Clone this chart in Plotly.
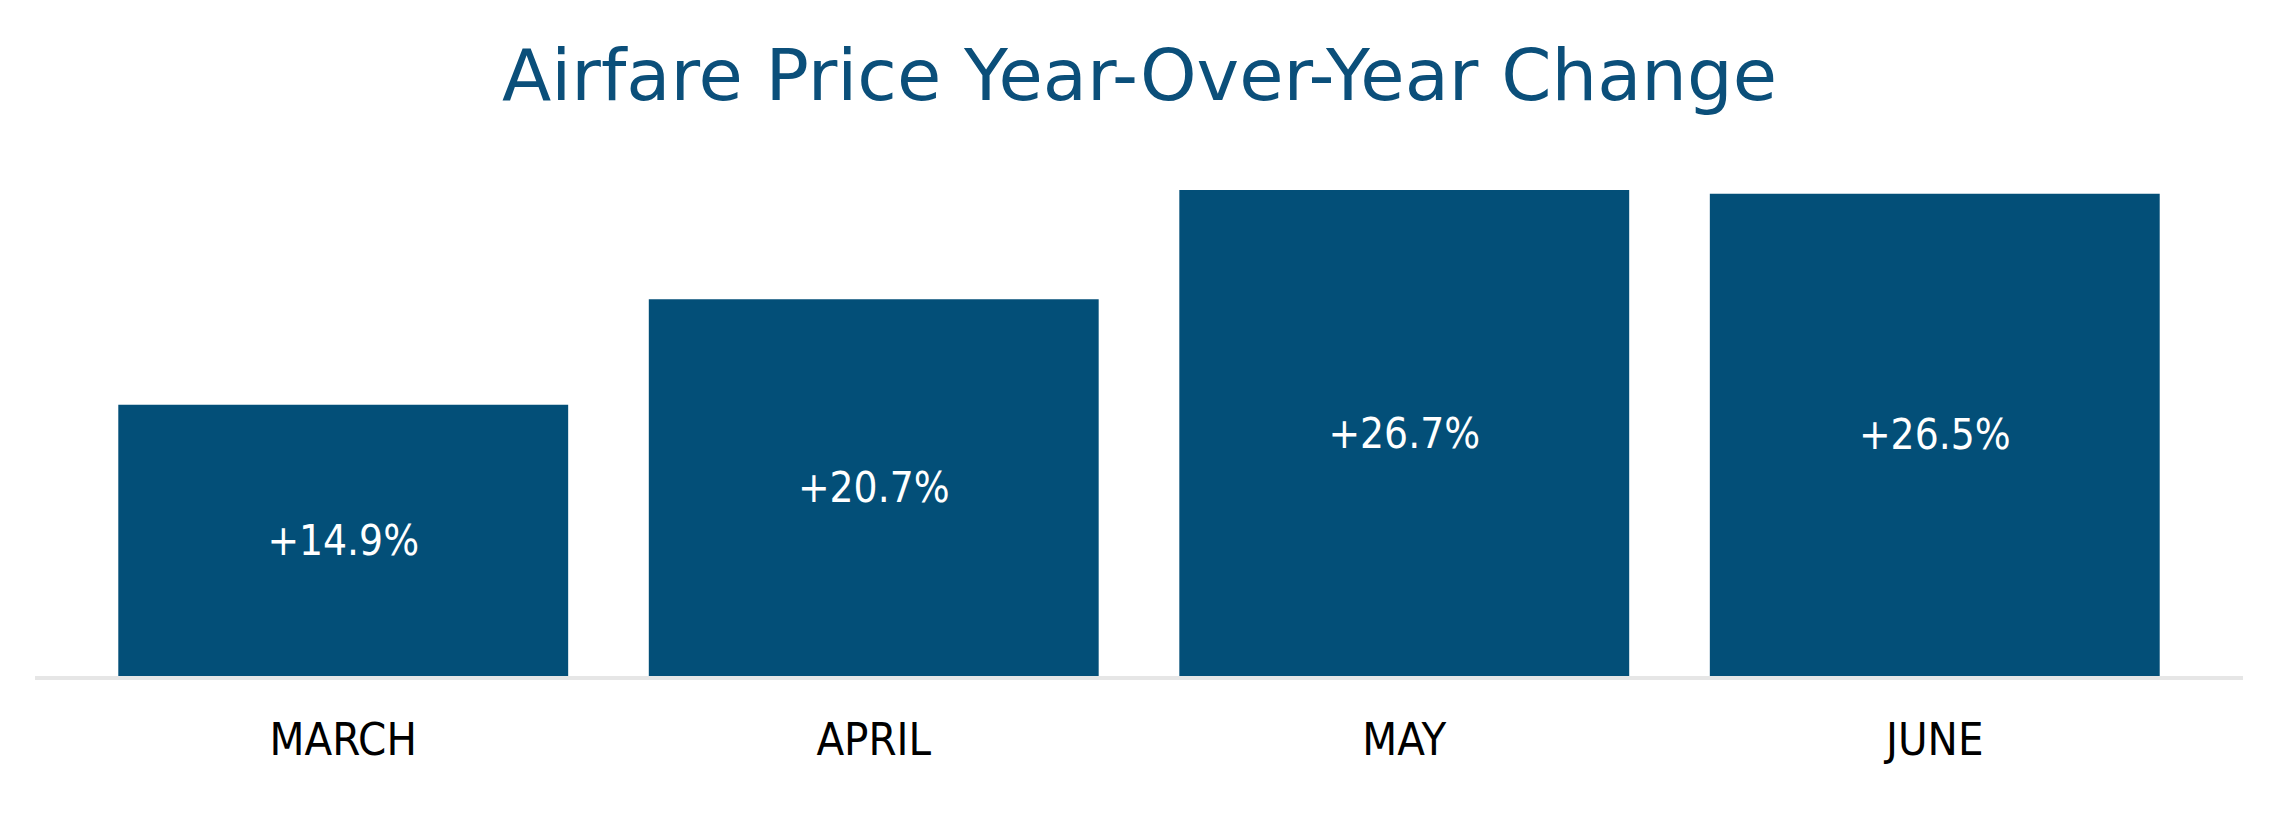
import plotly.graph_objects as go

# data
months = ["MARCH", "APRIL", "MAY", "JUNE"]
yoy_change = [14.9, 20.7, 26.7, 26.5]
bar_labels = ["+14.9%", "+20.7%", "+26.7%", "+26.5%"]

navy = "#034f78"
narrow = "Liberation Sans Narrow, DejaVu Sans Condensed, Arial Narrow, sans-serif"

# the page body has an 8px margin, so the figure is a little smaller than the window
W, H = 2263, 797

fig = go.Figure(
    go.Bar(
        x=months,
        y=yoy_change,
        text=bar_labels,
        textposition="inside",
        insidetextanchor="middle",
        textangle=0,
        textfont=dict(family=narrow, size=42, color="white"),
        marker=dict(color=navy, line=dict(width=0)),
        hoverinfo="skip",
    )
)

fig.update_layout(
    width=W,
    height=H,
    paper_bgcolor="white",
    plot_bgcolor="white",
    margin=dict(l=27, r=28, t=92, b=129),
    bargap=0.152,
    showlegend=False,
    title=dict(
        text="Airfare Price Year-Over-Year Change",
        x=0.5,
        xanchor="center",
        yref="container",
        y=1 - 67 / H,
        yanchor="middle",
        font=dict(family="DejaVu Sans", size=72, color="#0b4f7a"),
    ),
)

fig.update_xaxes(
    range=[-0.581, 3.581],
    showline=True,
    linecolor="#e6e6e6",
    linewidth=4,
    showgrid=False,
    ticks="",
    ticklabelstandoff=21,
    tickfont=dict(family=narrow, size=45, color="black"),
)
fig.update_yaxes(
    range=[0, 31.65],
    visible=False,
    showgrid=False,
    zeroline=False,
)

fig.write_html("out.html")
